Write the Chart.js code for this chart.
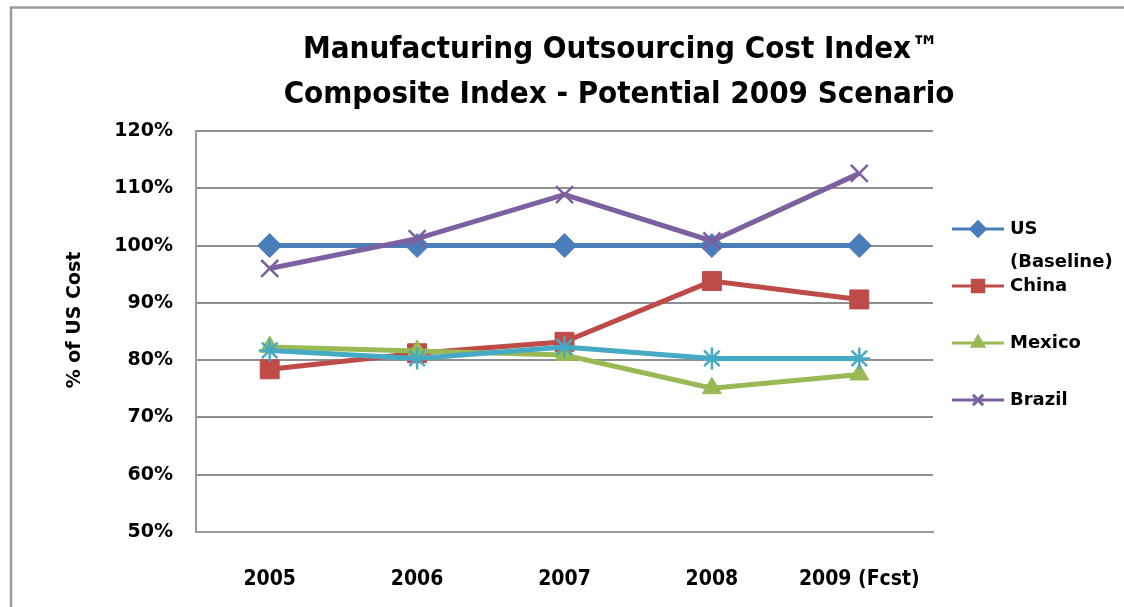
<!DOCTYPE html>
<html><head><meta charset="utf-8">
<script src="https://cdn.jsdelivr.net/npm/chart.js@4/dist/chart.umd.min.js"></script>
<style>html,body{margin:0;padding:0;background:#fff;} #wrap{position:relative;width:1124px;height:607px;}</style>
</head><body><div id="wrap"><canvas id="c" width="1124" height="607"></canvas></div>
<script>
const categories = ['2005', '2006', '2007', '2008', '2009 (Fcst)'];
const usValues = [100, 100, 100, 100, 100];
const chinaValues = [78.4, 81.2, 83.2, 93.8, 90.6];
const mexicoValues = [82.3, 81.6, 80.9, 75.1, 77.5];
const brazilValues = [96.0, 101.2, 108.9, 100.8, 112.6];
const series5Values = [81.7, 80.3, 82.3, 80.3, 80.3];
const yTicks = [50, 60, 70, 80, 90, 100, 110, 120];
const titleLines = ['Manufacturing Outsourcing Cost Index\u2122', 'Composite Index - Potential 2009 Scenario'];
const yAxisTitle = '% of US Cost';
const legendLabels = ['US (Baseline)', 'China', 'Mexico', 'Brazil'];

const NARROW = "'Liberation Sans Narrow', 'DejaVu Sans Condensed', 'Roboto', sans-serif";
const WIDE = "'DejaVu Sans', 'Verdana', sans-serif";

function ds(label, data, color, style, radius, order, bw) {
  return {
    label: label, data: data, borderColor: color, backgroundColor: color,
    borderWidth: 5, pointStyle: style, pointRadius: radius, pointHoverRadius: radius,
    pointBorderColor: color, pointBackgroundColor: color, pointBorderWidth: bw,
    tension: 0, fill: false, order: order
  };
}

const datasets = [
  ds(legendLabels[0], usValues, '#4a7ebb', 'rectRot', 12, 4, 1),
  ds(legendLabels[1], chinaValues, '#be4b48', 'rect', 13.4, 3, 1),
  ds(legendLabels[2], mexicoValues, '#98b954', 'triangle', 11, 2, 1),
  ds(legendLabels[3], brazilValues, '#7d60a0', 'crossRot', 12, 1, 2.5),
  ds('Series 5', series5Values, '#46aac5', 'star', 11, 0, 2.5)
];

const decor = {
  id: 'decor',
  beforeDraw(chart) {
    const ctx = chart.ctx;
    ctx.save();
    ctx.fillStyle = '#fff';
    ctx.fillRect(0, 0, chart.width, chart.height);
    ctx.strokeStyle = '#9a9a9a';
    ctx.lineWidth = 2.5;
    ctx.beginPath();
    ctx.moveTo(11, 607); ctx.lineTo(11, 7.5); ctx.lineTo(1124, 7.5);
    ctx.stroke();
    ctx.restore();
  },
  afterDraw(chart) {
    const ctx = chart.ctx;
    ctx.save();
    ctx.fillStyle = '#000';
    ctx.textAlign = 'center';
    ctx.textBaseline = 'middle';
    ctx.font = "bold 31px " + NARROW;
    ctx.fillText(titleLines[0], 621, 50);
    ctx.fillText(titleLines[1], 619, 95);
    ctx.save();
    ctx.translate(75, 320);
    ctx.rotate(-Math.PI / 2);
    ctx.font = "bold 19px " + WIDE;
    ctx.fillText(yAxisTitle, 0, 0);
    ctx.restore();
    ctx.textAlign = 'left';
    ctx.font = "bold 18px " + WIDE;
    for (let i = 0; i < legendLabels.length; i++) {
      const d = chart.data.datasets[i];
      const y = 229 + i * 57;
      ctx.strokeStyle = d.borderColor;
      ctx.lineWidth = 3;
      ctx.beginPath();
      ctx.moveTo(952, y); ctx.lineTo(1004, y);
      ctx.stroke();
      ctx.fillStyle = d.borderColor;
      ctx.strokeStyle = d.borderColor;
      Chart.helpers.drawPoint(ctx, {
        pointStyle: d.pointStyle, rotation: 0, borderWidth: d.pointStyle === 'crossRot' ? 2 : 1,
        radius: d.pointRadius * 0.6
      }, 978, y);
      ctx.fillStyle = '#000';
      const words = legendLabels[i].split(' ');
      let lines;
      if (ctx.measureText(legendLabels[i]).width > 100 && words.length > 1) {
        lines = [words[0], words.slice(1).join(' ')];
      } else lines = [legendLabels[i]];
      lines.forEach((t, k) => ctx.fillText(t, 1010, y + k * 33));
    }
    ctx.restore();
  }
};

new Chart(document.getElementById('c'), {
  type: 'line',
  data: { labels: categories, datasets: datasets },
  options: {
    responsive: false, animation: false, devicePixelRatio: 1,
    layout: { padding: { top: 131, right: 191, left: 0, bottom: 0 } },
    plugins: { legend: { display: false }, title: { display: false }, tooltip: { enabled: false } },
    scales: {
      x: {
        type: 'category', offset: true,
        grid: { display: false },
        border: { display: true, color: '#9a9a9a', width: 2 },
        ticks: { color: '#000', font: { family: NARROW, size: 21, weight: 'bold' }, padding: 27, maxRotation: 0, autoSkip: false },
        afterFit(s) { s.height = 75; }
      },
      y: {
        min: yTicks[0], max: yTicks[yTicks.length - 1],
        afterBuildTicks(s) { s.ticks = yTicks.map(v => ({ value: v })); },
        grid: { color: '#8f8f8f', lineWidth: 2, drawTicks: false },
        border: { display: true, color: '#9a9a9a', width: 2 },
        ticks: { color: '#000', font: { family: WIDE, size: 19, weight: 'bold' }, padding: 23, callback: v => v + '%' },
        afterFit(s) { s.width = 196; }
      }
    }
  },
  plugins: [decor]
});
</script>
</body></html>
